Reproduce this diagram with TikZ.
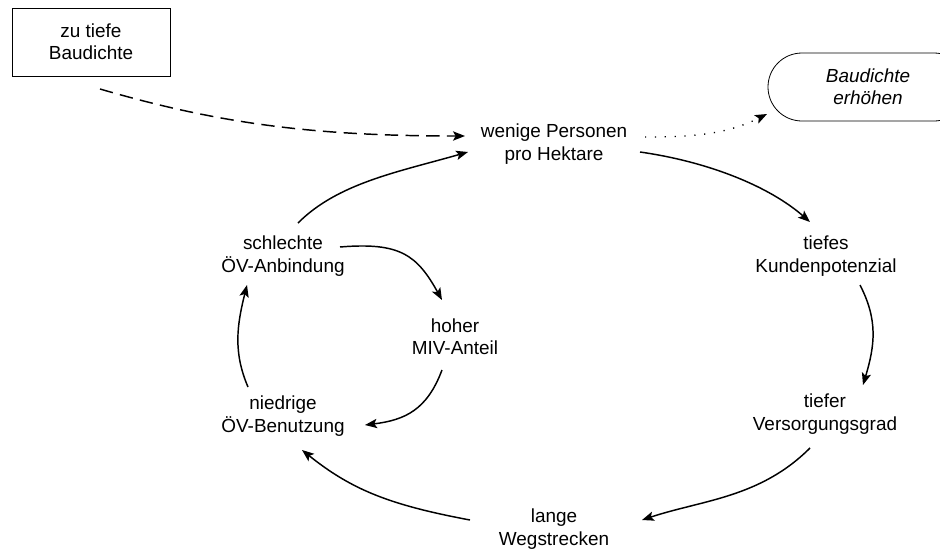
\documentclass[tikz,border=0pt]{standalone}
\usepackage{fontspec}
\setmainfont{Liberation Sans}
\usetikzlibrary{arrows.meta,shapes.misc}

\tikzset{
  lbl/.style={align=center, inner sep=0pt, font=\fontsize{14.2pt}{16.8pt}\selectfont},
  causebox/.style={lbl, draw, line width=0.6pt, minimum width=118.5pt, minimum height=51pt},
  measure/.style={lbl, draw, line width=0.6pt, rounded rectangle, minimum width=150pt,
    minimum height=51pt, font=\fontsize{14.2pt}{16.8pt}\selectfont\itshape},
  link/.style={line width=1.1pt, -{Stealth[length=9pt,width=7pt,inset=2pt]}},
  weak/.style={link, dash pattern=on 10pt off 5.5pt},
  hint/.style={line width=1pt, dash pattern=on 0.9pt off 6.5pt,
    -{Stealth[length=9pt,width=7pt,inset=2pt]}}
}

\begin{document}
\begin{tikzpicture}[x=0.75pt, y=-0.75pt]
  \useasboundingbox (0,0) rectangle (940,550);

  % nodes of the cycle
  \node[causebox] (zu)   at (91,42)  {zu tiefe\\Baudichte};
  \node[measure]  (erh)  at (868,87) {Baudichte\\erhöhen};
  \node[lbl]      (wen)  at (554,144) {wenige Personen\\pro Hektare};
  \node[lbl]      (kund) at (826,256) {tiefes\\Kundenpotenzial};
  \node[lbl]      (vers) at (825,414) {tiefer\\Versorgungsgrad};
  \node[lbl]      (lang) at (554,529) {lange\\Wegstrecken};
  \node[lbl]      (nied) at (283,416) {niedrige\\ÖV-Benutzung};
  \node[lbl]      (sch)  at (283,256) {schlechte\\ÖV-Anbindung};
  \node[lbl]      (miv)  at (455,337) {hoher\\MIV-Anteil};

  % cause and measure
  \draw[weak] ([shift={(9,47)}]zu.center)
    .. controls +(120,35) and +(-150,0) .. ([shift={(-89,-8)}]wen.center);
  \draw[hint] ([shift={(91,-7)}]wen.center)
    .. controls +(50,0) and +(-40,20) .. ([shift={(-101,27)}]erh.center);

  % main loop
  \draw[link] ([shift={(86,8)}]wen.center)
    .. controls +(70,10) and +(-40,-35) .. ([shift={(-16,-34)}]kund.center);
  \draw[link] ([shift={(34,29)}]kund.center)
    .. controls +(18,35) and +(12,-40) .. ([shift={(38,-29)}]vers.center);
  \draw[link] ([shift={(-15,34)}]vers.center)
    .. controls +(-50,50) and +(60,-20) .. ([shift={(88,-9)}]lang.center);
  \draw[link] ([shift={(-84,-9)}]lang.center)
    .. controls +(-80,-15) and +(50,40) .. ([shift={(19,34)}]nied.center);
  \draw[link] ([shift={(-35,-29)}]nied.center)
    .. controls +(-15,-35) and +(-10,40) .. ([shift={(-36,29)}]sch.center);
  \draw[link] ([shift={(15,-33)}]sch.center)
    .. controls +(40,-40) and +(-70,20) .. ([shift={(-86,8)}]wen.center);

  % inner loop
  \draw[link] ([shift={(57,-9)}]sch.center)
    .. controls +(60,-5) and +(-25,-45) .. ([shift={(-13,-37)}]miv.center);
  \draw[link] ([shift={(-13,33)}]miv.center)
    .. controls +(-15,40) and +(40,-5) .. ([shift={(82,9)}]nied.center);
\end{tikzpicture}
\end{document}
